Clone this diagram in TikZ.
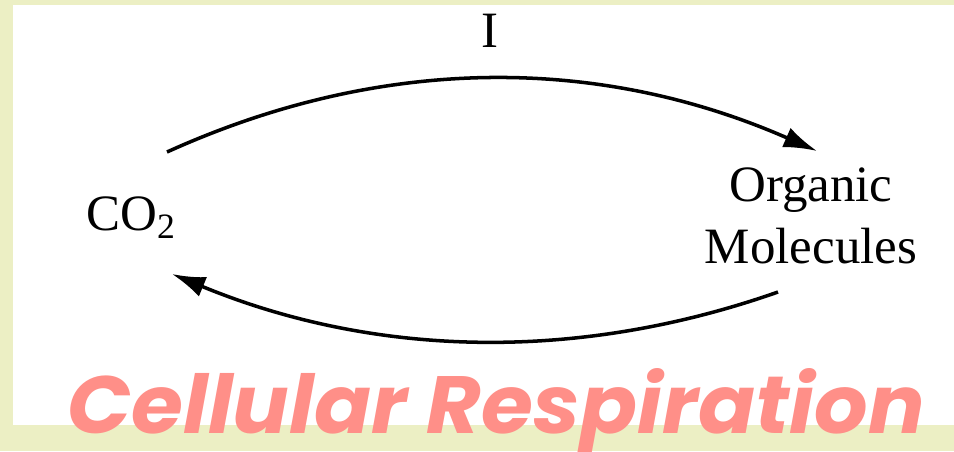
\documentclass[tikz,border=0pt]{standalone}
\usepackage{fontspec}
\usepackage{xcolor}
\usetikzlibrary{arrows.meta,positioning}
\setmainfont{Liberation Serif}
\newfontfamily\brushfont{Poppins}
\definecolor{paleOlive}{RGB}{236,239,196}
\definecolor{salmonPink}{RGB}{255,143,136}

\begin{document}
\begin{tikzpicture}[
            x=0.02cm, y=-0.02cm,
            chem/.style={inner sep=0pt, anchor=base, font=\fontsize{29}{35}\selectfont},
            loopArrow/.style={line width=2pt, -{Latex[length=19pt,width=12pt]}},
            banner/.style={inner sep=0pt, anchor=base west, text=salmonPink, font=\brushfont\bfseries\itshape}
        ]
            % Frame
            \fill[paleOlive] (0,0) rectangle (954,451);
            \fill[white] (13,5) rectangle (954,425);
            \useasboundingbox (0,0) rectangle (954,451);

            \node[chem] (lbl) at (490,47) {I};
            \node[chem, anchor=base west] (co2) at (86,230) {CO\textsubscript{2}};
            \node[chem, align=center] (org) at (811,263) {Organic\\Molecules};

            % Arc ends
            \coordinate (c1) at (167,152);
            \coordinate (c2) at (817,151);
            \coordinate (c3) at (778,292);
            \coordinate (c4) at (172,274);

            \draw[loopArrow] (c1) .. controls (381,55) and (598,55) .. (c2);
            \draw[loopArrow] (c3) .. controls (576,363) and (373,357) .. (c4);

            \node[banner] (ttl) at (67,433) {\resizebox{488pt}{37pt}{Cellular Respiration}};
        \end{tikzpicture}
\end{document}
